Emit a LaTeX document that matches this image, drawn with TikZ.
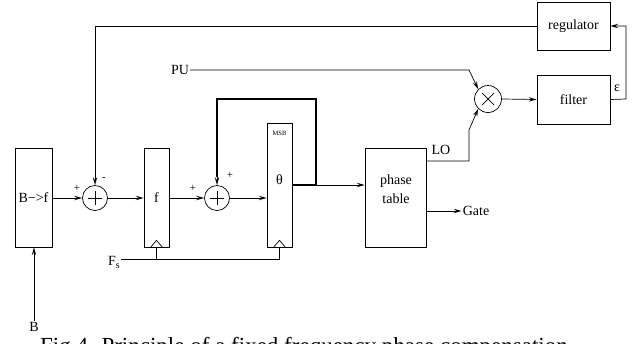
\documentclass[tikz,border=0pt]{standalone}
\usepackage{fontspec}
\setmainfont{Liberation Serif}
\usepackage{tikz}
\usetikzlibrary{calc}
\usetikzlibrary{arrows.meta}

\tikzset{
  blk/.style={draw, line width=0.7pt, inner sep=0pt},
  sumnode/.style={draw, circle, line width=0.7pt, minimum size=25pt, inner sep=0pt},
  lbl/.style={inner sep=1pt},
  conn/.style={line width=0.7pt, -{Stealth[length=8pt,width=4.5pt,inset=3pt,open]}},
  wire/.style={line width=0.7pt}
}

\begin{document}
\begin{tikzpicture}[x=1pt, y=-1pt, font=\fontsize{14}{16}\selectfont]
        \useasboundingbox (0,0) rectangle (639,343);

        % blocks
        \node (Bf) at (33.5,197.5) [blk, minimum width=37pt, minimum height=99pt] {B−>f};
        \node (S1) at (95,198) [sumnode] {};
        \node (fb) at (156.5,197.5) [blk, minimum width=25pt, minimum height=99pt] {f};
        \node (S2) at (217,198) [sumnode] {};
        \node (Th) at (279.5,185) [blk, minimum width=25pt, minimum height=124pt] {};
        \node (PT) at (395.5,197.5) [blk, minimum width=61pt, minimum height=99pt] {};
        \node (Mul) at (488,99) [sumnode, minimum size=27pt] {};
        \node (Filt) at (573.5,99.5) [blk, minimum width=73pt, minimum height=49pt] {filter};
        \node (Reg) at (573.5,26) [blk, minimum width=73pt, minimum height=48pt] {regulator};

        % texts
        \node (Theta) at (279.5,180) [lbl] {θ};
        \node (MSB) at (279.5,133) [lbl, font=\fontsize{6.5}{6.5}\selectfont] {MSB};
        \node (Phase) at (396,181) [lbl] {phase};
        \node (Table) at (396,199) [lbl] {table};
        \node (PU) at (180,70) [lbl] {PU};
        \node (LO) at (441,150) [lbl] {LO};
        \node (Eps) at (617,88) [lbl] {ε};
        \node (Gate) at (476,211) [lbl] {Gate};
        \node (Bin) at (34,327) [lbl] {B};
        \node (Fs) at (107,265) [lbl, anchor=base west] {F\raisebox{-0.6ex}{\fontsize{10}{10}\selectfont s}};
        \node (P1) at (77,188) [lbl, font=\fontsize{11}{11}\selectfont] {+};
        \node (M1) at (104,179) [lbl, font=\fontsize{11}{11}\selectfont] {-};
        \node (P2) at (193,188) [lbl, font=\fontsize{11}{11}\selectfont] {+};
        \node (P3) at (230,175) [lbl, font=\fontsize{11}{11}\selectfont] {+};
        \node (Cap) at (40,353) [inner sep=0pt, anchor=base west, font=\fontsize{23}{23}\selectfont] {Fig 4. Principle of a fixed frequency phase compensation};

        % signs in the circles
        \draw[wire] ($(S1)+(-7,0)$) -- ($(S1)+(7,0)$);
        \draw[wire] ($(S1)+(0,-7)$) -- ($(S1)+(0,7)$);
        \draw[wire] ($(S2)+(-7,0)$) -- ($(S2)+(7,0)$);
        \draw[wire] ($(S2)+(0,-7)$) -- ($(S2)+(0,7)$);
        \draw[wire] ($(Mul)+(-6,-6)$) -- ($(Mul)+(6,6)$);
        \draw[wire] ($(Mul)+(-6,6)$) -- ($(Mul)+(6,-6)$);

        % clock inputs
        \draw[wire] ($(fb.south)+(-6,0)$) -- ($(fb.south)+(0,-7)$) -- ($(fb.south)+(6,0)$);
        \draw[wire] ($(Th.south)+(-6,0)$) -- ($(Th.south)+(0,-7)$) -- ($(Th.south)+(6,0)$);

        \coordinate (loopR) at (316,99);
        \coordinate (PUk) at (469,70);
        \coordinate (LOk) at (469,161);
        \coordinate (LOk2) at (469,130);
        \coordinate (epsK) at (626,99);
        \coordinate (fsL) at (0,259);

        % main path
        \draw[conn] (Bin.north) -- (Bin.north |- Bf.south);
        \draw[conn] (Bf.east |- S1) -- (S1.west);
        \draw[conn] (S1.east) -- (fb.west |- S1);
        \draw[conn] (fb.east |- S2) -- (S2.west);
        \draw[conn] (S2.east) -- (Th.west |- S2);
        \draw[conn] (Th.east) -- (PT.west |- Th.east);
        \draw[conn] (PT.east |- Gate) -- (Gate.west);

        % accumulator loop
        \draw[line width=2pt] (Th.east) -- (Th.east -| loopR) -- (loopR) -- (S2 |- loopR) -- ($(S2.north)+(0,-8)$);
        \draw[conn] ($(S2.north)+(0,-9)$) -- (S2.north);

        % phase loop
        \draw[conn] (PU.east) -- (PUk) -- (Mul.north west);
        \draw[conn] (PT.east |- LOk) -- (LOk) -- (LOk2) -- (Mul.south west);
        \draw[conn] (Mul.east) -- (Filt.west);
        \draw[conn] (Filt.east) -- (epsK) |- (Reg.east);
        \draw[conn] (Reg.west) -| (S1.north);

        % sampling clock
        \draw[wire] (Fs.east |- fsL) -- (Th.south |- fsL) -- (Th.south);
        \draw[wire] (fb.south |- fsL) -- (fb.south);
    \end{tikzpicture}
\end{document}
